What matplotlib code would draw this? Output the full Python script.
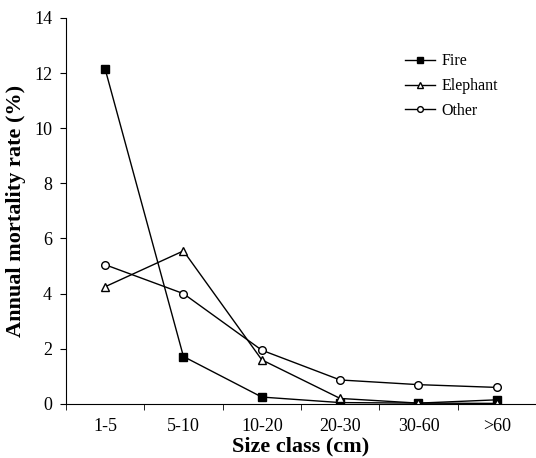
import numpy as np
import matplotlib.pyplot as plt

plt.rcParams['font.family'] = ['Liberation Serif', 'DejaVu Serif']

size_classes = ['1-5', '5-10', '10-20', '20-30', '30-60', '>60']
fire = [12.15, 1.72, 0.25, 0.05, 0.03, 0.15]
elephant = [4.25, 5.55, 1.6, 0.2, 0.03, 0.02]
other = [5.05, 4.0, 1.95, 0.87, 0.7, 0.6]

fig = plt.figure(figsize=(5.36, 4.58), dpi=100)
ax = fig.add_axes([0.123, 0.118, 0.877, 0.843])

x = np.arange(1, len(size_classes) + 1)
ax.plot(x, fire, '-s', color='black', lw=1, ms=6, mfc='black', label='Fire')
ax.plot(x, elephant, '-^', color='black', lw=1, ms=6, mfc='white', label='Elephant')
ax.plot(x, other, '-o', color='black', lw=1, ms=5.5, mfc='white', label='Other')

ax.set_xlim(0.5, 6.5)
ax.set_ylim(0, 14)
ax.set_yticks(range(0, 15, 2))
ax.set_xticks(x)
ax.set_xticklabels(size_classes)
ax.set_xticks(np.arange(0.5, 7, 1), minor=True)
ax.tick_params(axis='x', which='major', length=0, pad=10, labelsize=13)
ax.tick_params(axis='x', which='minor', length=4, direction='out')
ax.tick_params(axis='y', length=4, direction='out', labelsize=13, pad=6)
ax.spines['top'].set_visible(False)
ax.spines['right'].set_visible(False)

ax.set_xlabel('Size class (cm)', fontsize=16, fontweight='bold', labelpad=1)
ax.set_ylabel('Annual mortality rate (%)', fontsize=16, fontweight='bold', labelpad=6)

ax.legend(frameon=False, loc='upper left', bbox_to_anchor=(0.69, 0.945),
          fontsize=11.5, handlelength=1.9, handletextpad=0.4,
          labelspacing=0.55, markerscale=0.75)

fig.savefig('out.png', dpi=100)
